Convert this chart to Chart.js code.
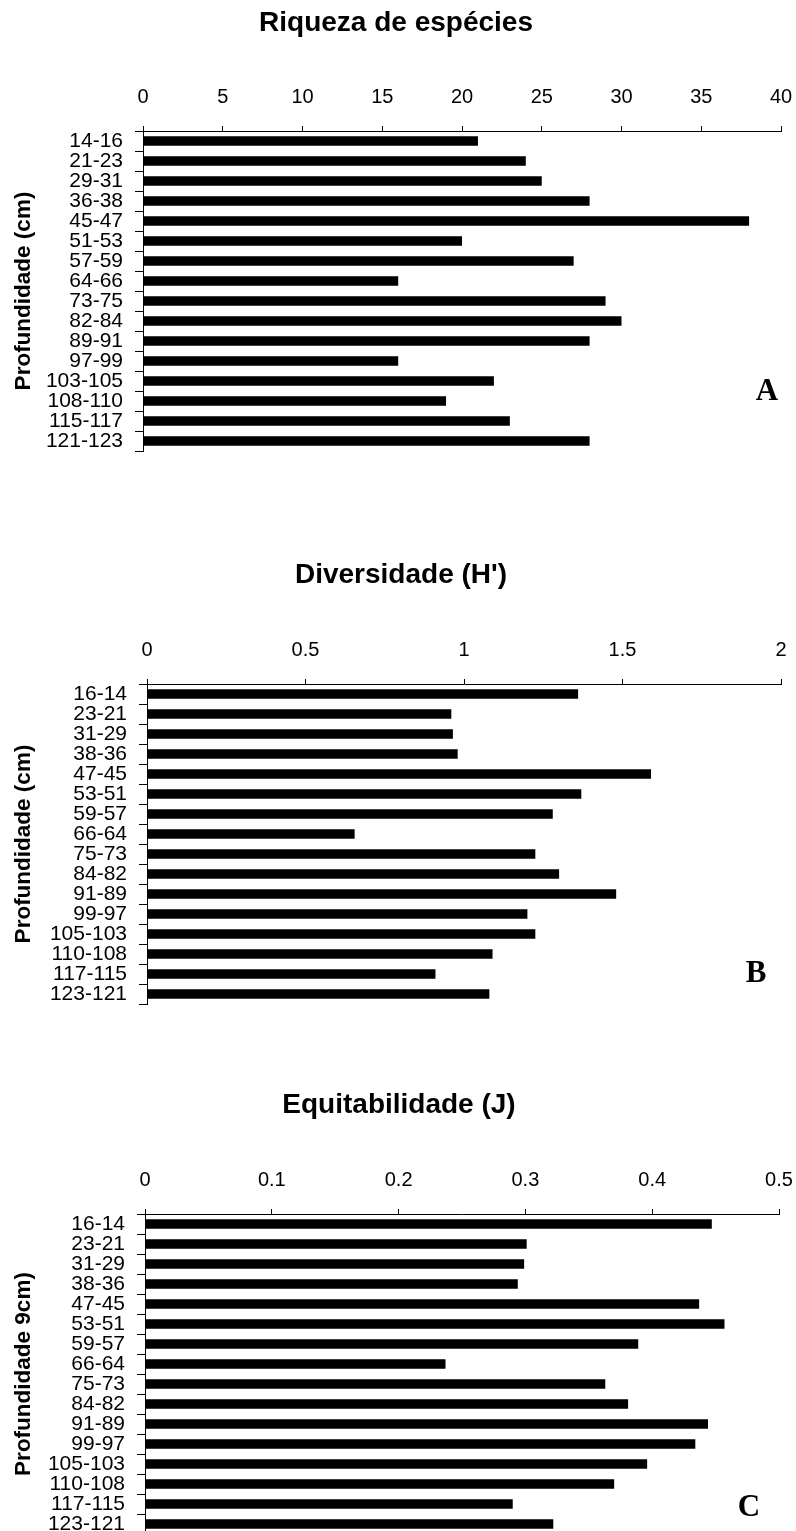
<!DOCTYPE html>
<html><head><meta charset="utf-8">
<script src="https://cdn.jsdelivr.net/npm/chart.js@4.4.1/dist/chart.umd.min.js"></script>
<style>
html,body{margin:0;padding:0;background:#fff;}
body{width:796px;height:1531px;position:relative;overflow:hidden;}
.box{position:absolute;left:0;width:796px;height:461px;}
</style></head><body>
<div class="box" style="top:0px"><canvas id="cA"></canvas></div>
<div class="box" style="top:553px"><canvas id="cB"></canvas></div>
<div class="box" style="top:1083px"><canvas id="cC"></canvas></div>
<script>
const depthA = ['14-16','21-23','29-31','36-38','45-47','51-53','57-59','64-66','73-75','82-84','89-91','97-99','103-105','108-110','115-117','121-123'];
const depthBC = ['16-14','23-21','31-29','38-36','47-45','53-51','59-57','66-64','75-73','84-82','91-89','99-97','105-103','110-108','117-115','123-121'];
const riqueza = [21,24,25,28,38,20,27,16,29,30,28,16,22,19,23,28];
const diversidade = [1.36,0.96,0.965,0.98,1.59,1.37,1.28,0.655,1.225,1.30,1.48,1.20,1.225,1.09,0.91,1.08];
const equitabilidade = [0.447,0.301,0.299,0.294,0.437,0.457,0.389,0.237,0.363,0.381,0.444,0.434,0.396,0.370,0.290,0.322];
const ticksA = [0,5,10,15,20,25,30,35,40];
const ticksB = [0,0.5,1,1.5,2];
const ticksC = [0,0.1,0.2,0.3,0.4,0.5];

const SANS = 'Arial, "Liberation Sans", sans-serif';
const textPlugin = {
  id: 'panelText',
  afterDraw(chart, args, opts) {
    const ctx = chart.ctx;
    ctx.save();
    ctx.fillStyle = '#000';
    ctx.textAlign = 'center';
    ctx.textBaseline = 'middle';
    ctx.font = 'bold 28px ' + SANS;
    ctx.fillText(opts.title, opts.titleX, opts.titleY);
    ctx.font = 'bold 31px "Liberation Serif", "Times New Roman", serif';
    ctx.fillText(opts.letter, opts.letterX, opts.letterY);
    ctx.restore();
  }
};

function makeChart(id, cfg) {
  const TOP = 40;
  return new Chart(document.getElementById(id), {
    type: 'bar',
    data: {
      labels: cfg.labels,
      datasets: [{ data: cfg.values, backgroundColor: '#000', borderWidth: 0,
                   barPercentage: 0.47, categoryPercentage: 1 }]
    },
    options: {
      indexAxis: 'y',
      responsive: true,
      maintainAspectRatio: false,
      animation: false,
      layout: { padding: { top: TOP, left: 0, right: cfg.right, bottom: 10 } },
      plugins: {
        legend: { display: false },
        tooltip: { enabled: false },
        title: { display: false },
        panelText: cfg.text
      },
      scales: {
        x: {
          position: 'top', min: cfg.ticks[0], max: cfg.ticks[cfg.ticks.length - 1],
          afterBuildTicks: s => { s.ticks = cfg.ticks.map(v => ({ value: v })); },
          afterFit: s => { s.height = 131 - TOP; s.paddingLeft = 0; s.paddingRight = 0; },
          ticks: { color: '#000', font: { family: SANS, size: 20 }, padding: 17,
                   autoSkip: false, maxRotation: 0, callback: v => String(v) },
          grid: { drawOnChartArea: false, drawTicks: true, tickLength: 5, color: '#000', lineWidth: 1 },
          border: { display: true, color: '#000', width: 1 }
        },
        y: {
          position: 'left',
          afterFit: s => { s.width = cfg.left; s.paddingTop = 0; s.paddingBottom = 0; },
          ticks: { color: '#000', font: { family: SANS, size: 21 }, padding: 12, autoSkip: false },
          grid: { offset: true, drawOnChartArea: false, drawTicks: true, tickLength: 8, color: '#000', lineWidth: 1 },
          border: { display: true, color: '#000', width: 1 },
          title: { display: true, text: cfg.ytitle, color: '#000',
                   font: { family: SANS, size: 22.5, weight: 'bold' }, padding: { top: 10, bottom: 0 } }
        }
      }
    },
    plugins: [textPlugin]
  });
}

makeChart('cA', { labels: depthA, values: riqueza, ticks: ticksA,
  ytitle: 'Profundidade (cm)', left: 143, right: 15,
  text: { title: 'Riqueza de espécies', titleX: 396, titleY: 23, letter: 'A', letterX: 767, letterY: 392 } });
makeChart('cB', { labels: depthBC, values: diversidade, ticks: ticksB,
  ytitle: 'Profundidade (cm)', left: 147, right: 15,
  text: { title: "Diversidade (H')", titleX: 401, titleY: 22, letter: 'B', letterX: 756, letterY: 421 } });
makeChart('cC', { labels: depthBC, values: equitabilidade, ticks: ticksC,
  ytitle: 'Profundidade 9cm)', left: 145, right: 17,
  text: { title: 'Equitabilidade (J)', titleX: 399, titleY: 22, letter: 'C', letterX: 749, letterY: 425 } });
</script>
</body></html>
